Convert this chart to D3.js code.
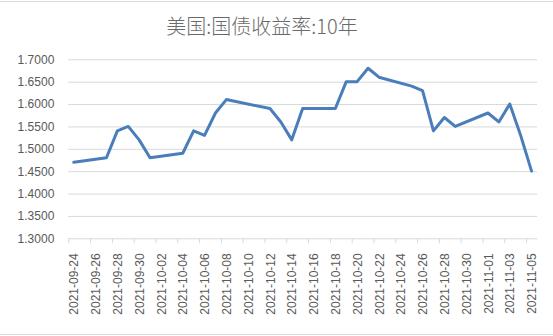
<!DOCTYPE html>
<html>
<head>
<meta charset="utf-8">
<script src="https://cdn.jsdelivr.net/npm/d3@7"></script>
<style>
  html, body { margin: 0; padding: 0; background: #fff; }
  svg { display: block; }
</style>
</head>
<body>
<svg id="chart" width="553" height="336"></svg>
<script>
const title = "美国:国债收益率:10年";
const dates = [
  "2021-09-24","2021-09-27","2021-09-28","2021-09-29","2021-09-30","2021-10-01",
  "2021-10-04","2021-10-05","2021-10-06","2021-10-07","2021-10-08",
  "2021-10-12","2021-10-13","2021-10-14","2021-10-15",
  "2021-10-18","2021-10-19","2021-10-20","2021-10-21","2021-10-22",
  "2021-10-25","2021-10-26","2021-10-27","2021-10-28","2021-10-29",
  "2021-11-01","2021-11-02","2021-11-03","2021-11-04","2021-11-05"
];
const values = [
  1.47, 1.48, 1.54, 1.55, 1.52, 1.48,
  1.49, 1.54, 1.53, 1.58, 1.61,
  1.59, 1.56, 1.52, 1.59,
  1.59, 1.65, 1.65, 1.68, 1.66,
  1.64, 1.63, 1.54, 1.57, 1.55,
  1.58, 1.56, 1.60, 1.53, 1.45
];
const yTicks = [1.30, 1.35, 1.40, 1.45, 1.50, 1.55, 1.60, 1.65, 1.70];
const xStart = "2021-09-24", xEnd = "2021-11-05";

(function () {
const parse = d3.utcParse("%Y-%m-%d");
const fmt = d3.utcFormat("%Y-%m-%d");
const DAY = 864e5;
const data = dates.map((d, i) => ({ date: parse(d), value: values[i] }));

const svg = d3.select("#chart");
const W = 553;
const pL = 68.3, pR = 537, pT = 59.3, pB = 238.3;
const grey = "#d9d9d9", textCol = "#595959";

// border lines
svg.append("line").attr("x1", 0).attr("x2", W).attr("y1", 1.5).attr("y2", 1.5).attr("stroke", grey);
svg.append("line").attr("x1", 0).attr("x2", W).attr("y1", 334.5).attr("y2", 334.5).attr("stroke", grey);

const d0 = parse(xStart), d1 = parse(xEnd);
const x = d3.scaleUtc()
  .domain([new Date(+d0 - DAY / 2), new Date(+d1 + DAY / 2)])
  .range([pL, pR]);
const y = d3.scaleLinear().domain([1.3, 1.7]).range([pB, pT]);

// title
svg.append("text")
  .attr("x", 262).attr("y", 34)
  .attr("text-anchor", "middle")
  .attr("font-family", "'Noto Sans CJK SC', 'Noto Sans', sans-serif")
  .attr("font-size", 20)
  .attr("font-weight", 300)
  .attr("fill", "#6a6a6a")
  .text(title);

// y gridlines + labels
const yAxis = svg.append("g")
  .attr("transform", `translate(${pL},0)`)
  .call(d3.axisLeft(y).tickValues(yTicks).tickSize(-(pR - pL)).tickPadding(14)
    .tickFormat(d3.format(".4f")));
yAxis.select(".domain").remove();
yAxis.selectAll(".tick line").attr("stroke", grey).attr("stroke-width", 1)
  .filter(d => Math.abs(d - 1.3) < 1e-9).remove();
yAxis.selectAll(".tick text")
  .attr("fill", textCol)
  .attr("font-family", "'Liberation Sans', Arial, sans-serif")
  .attr("font-size", 12);

// x axis tick marks at day boundaries every 2 days
const boundaries = [];
const labelDates = [];
for (let t = +d0; t <= +d1; t += 2 * DAY) {
  boundaries.push(new Date(t - DAY / 2));
  labelDates.push(new Date(t));
}
const xTicks = svg.append("g")
  .attr("transform", `translate(0,${pB})`)
  .call(d3.axisBottom(x).tickValues(boundaries).tickSize(5).tickSizeOuter(0).tickFormat(""));
xTicks.select(".domain").attr("stroke", grey);
xTicks.selectAll(".tick line").attr("stroke", grey);

// x labels
const xLabels = svg.append("g")
  .attr("transform", `translate(0,${pB})`)
  .call(d3.axisBottom(x).tickValues(labelDates).tickSize(0).tickFormat(fmt));
xLabels.select(".domain").remove();
xLabels.selectAll(".tick text")
  .attr("fill", textCol)
  .attr("font-family", "'Liberation Sans', Arial, sans-serif")
  .attr("font-size", 12)
  .attr("text-anchor", "end")
  .attr("transform", "translate(0,15) rotate(-90)")
  .attr("x", 0).attr("y", 0).attr("dy", "0.35em");

// line
const line = d3.line().x(d => x(d.date)).y(d => y(d.value));
svg.append("path")
  .datum(data)
  .attr("d", line)
  .attr("fill", "none")
  .attr("stroke", "#4a7ebb")
  .attr("stroke-width", 3)
  .attr("stroke-linejoin", "round")
  .attr("stroke-linecap", "round");
})();
</script>
</body>
</html>
